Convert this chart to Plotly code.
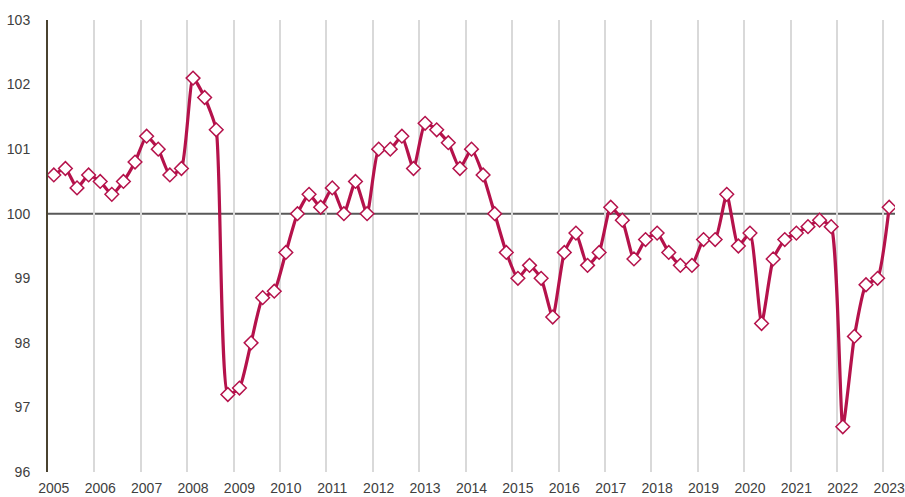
import plotly.graph_objects as go

years = [str(y) for y in range(2005, 2024)]
values = [
    100.6, 100.7, 100.4, 100.6,
    100.5, 100.3, 100.5, 100.8,
    101.2, 101.0, 100.6, 100.7,
    102.1, 101.8, 101.3, 97.2,
    97.3, 98.0, 98.7, 98.8,
    99.4, 100.0, 100.3, 100.1,
    100.4, 100.0, 100.5, 100.0,
    101.0, 101.0, 101.2, 100.7,
    101.4, 101.3, 101.1, 100.7,
    101.0, 100.6, 100.0, 99.4,
    99.0, 99.2, 99.0, 98.4,
    99.4, 99.7, 99.2, 99.4,
    100.1, 99.9, 99.3, 99.6,
    99.7, 99.4, 99.2, 99.2,
    99.6, 99.6, 100.3, 99.5,
    99.7, 98.3, 99.3, 99.6,
    99.7, 99.8, 99.9, 99.8,
    96.7, 98.1, 98.9, 99.0,
    100.1,
]
x_idx = list(range(len(values)))
year_pos = [4 * i for i in range(len(years))]
line_color = "#B5124B"

fig = go.Figure()
fig.add_trace(
    go.Scatter(
        x=x_idx,
        y=values,
        mode="lines+markers",
        line=dict(color=line_color, width=3.2, shape="spline", smoothing=0.5),
        marker=dict(symbol="diamond", size=10.5, color="white", line=dict(color=line_color, width=1.5)),
        showlegend=False,
    )
)

# reference line at 100
fig.add_shape(
    type="line", xref="paper", x0=0, x1=1, yref="y", y0=100, y1=100,
    line=dict(color="#595959", width=2), layer="below",
)

fig.update_layout(
    width=905,
    height=497,
    margin=dict(l=48, r=10, t=20, b=25),
    paper_bgcolor="white",
    plot_bgcolor="white",
    font=dict(family="Liberation Sans, Arial", size=14, color="#404040"),
    xaxis=dict(
        range=[-0.5, len(values) - 0.5],
        tickvals=year_pos,
        ticktext=years,
        showgrid=False,
        zeroline=False,
        showline=False,
        ticks="",
        automargin=False,
        ticklabelstandoff=6,
        minor=dict(tick0=-0.5, dtick=4, showgrid=True, gridcolor="#D9D9D9", gridwidth=2),
    ),
    yaxis=dict(
        range=[96, 103],
        dtick=1,
        showgrid=False,
        zeroline=False,
        showline=True,
        linecolor="#4A4330",
        linewidth=2,
        ticks="",
        automargin=False,
        ticklabelstandoff=13,
    ),
)

fig.write_html(
    "out.html",
    config={"displayModeBar": False},
    post_script="document.body.style.margin='0';",
)
